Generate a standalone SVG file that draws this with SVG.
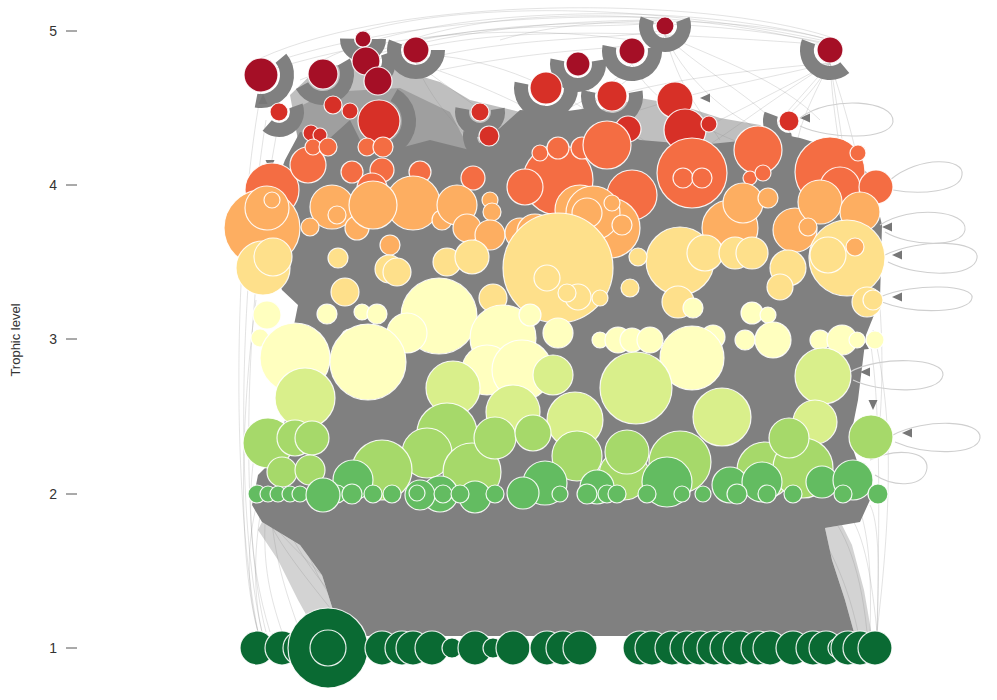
<svg xmlns="http://www.w3.org/2000/svg" xmlns:xlink="http://www.w3.org/1999/xlink" width="997" height="700" viewBox="0 0 997 700">
<defs>
<style>
text{font-family:"Liberation Sans",Arial,sans-serif;fill:#333}
.ax{font-size:14px}
.tk{stroke:#555;stroke-width:1}
.ln{fill:none;stroke:#8c8c8c;stroke-opacity:.35;stroke-width:.7}
.lp{fill:none;stroke:#cfcfcf;stroke-width:1.1}
.w{fill:none;stroke:#808080;stroke-width:14}
.ah{fill:#777}
circle.n{stroke:#fff;stroke-width:1.2;stroke-opacity:.9}
.dr{fill:#a50f26}.r{fill:#d73027}.or{fill:#f46d43}.o{fill:#fdae61}.yo{fill:#fee08b}.py{fill:#ffffbf}.lg{fill:#d9ef8b}.g{fill:#a6d96a}.mg{fill:#63bc61}.l1{fill:#0a6a33}
</style>
<path id="ah" d="M0,0 L10,-4.5 L10,4.5 Z"/>
</defs>
<rect width="997" height="700" fill="#fff"/>
<g id="axis">
<text class="ax" x="57" y="36" text-anchor="end">5</text>
<text class="ax" x="57" y="190" text-anchor="end">4</text>
<text class="ax" x="57" y="344" text-anchor="end">3</text>
<text class="ax" x="57" y="499" text-anchor="end">2</text>
<text class="ax" x="57" y="653" text-anchor="end">1</text>
<line class="tk" x1="66" y1="31" x2="77" y2="31"/>
<line class="tk" x1="66" y1="185" x2="77" y2="185"/>
<line class="tk" x1="66" y1="339" x2="77" y2="339"/>
<line class="tk" x1="66" y1="494" x2="77" y2="494"/>
<line class="tk" x1="66" y1="648" x2="77" y2="648"/>
<text x="20" y="340" font-size="13" text-anchor="middle" transform="rotate(-90 20 340)">Trophic level</text>
</g>
<g id="connectors">
<g id="light-lines">
<path class="ln" d="M261,58 C400,-5 700,-5 830,37"/>
<path class="ln" d="M323,60 C430,5 690,0 830,40"/>
<path class="ln" d="M363,31 C480,0 660,5 830,42"/>
<path class="ln" d="M416,38 C520,5 690,10 828,45"/>
<path class="ln" d="M280,60 C420,15 600,15 665,18"/>
<path class="ln" d="M300,80 C420,30 560,20 665,20"/>
<path class="ln" d="M340,75 C450,20 620,30 830,45"/>
<path class="ln" d="M270,70 C400,30 520,25 632,40"/>
<path class="ln" d="M416,40 C520,20 600,30 665,22"/>
<path class="ln" d="M500,40 C600,10 760,20 830,40"/>
<path class="ln" d="M380,50 C500,15 700,15 830,44"/>
<path class="ln" d="M420,60 C520,35 620,40 665,30"/>
<path class="ln" d="M440,70 C540,50 600,50 632,45"/>
<path class="ln" d="M416,63 C430,100 460,130 480,150"/>
<path class="ln" d="M416,63 C450,90 500,120 530,150"/>
<path class="ln" d="M416,63 C470,80 540,110 580,140"/>
<path class="ln" d="M430,55 C500,60 560,90 600,120"/>
<path class="ln" d="M546,104 C520,130 480,150 450,160"/>
<path class="ln" d="M578,76 C600,110 640,140 660,150"/>
<path class="ln" d="M665,35 C640,80 600,100 560,120"/>
<path class="ln" d="M665,35 C700,70 760,100 780,130"/>
<path class="ln" d="M665,35 C720,60 780,80 820,120"/>
<path class="ln" d="M632,64 C600,100 540,120 500,140"/>
<path class="ln" d="M258,632 C232,500 232,250 261,92"/>
<path class="ln" d="M262,632 C236,520 238,300 266,120"/>
<path class="ln" d="M266,632 C242,540 240,320 279,121"/>
<path class="ln" d="M258,632 C238,560 240,420 256,300"/>
<path class="ln" d="M270,632 C248,560 244,480 262,420"/>
<path class="ln" d="M258,632 C245,580 248,540 257,503"/>
<path class="ln" d="M262,632 C252,590 255,540 262,505"/>
<path class="ln" d="M380,632 C330,580 280,540 257,503"/>
<path class="ln" d="M400,632 C340,570 290,530 268,503"/>
<path class="ln" d="M440,632 C370,570 300,530 280,503"/>
<path class="ln" d="M470,632 C400,580 320,530 290,505"/>
<path class="ln" d="M330,608 C300,570 275,540 262,505"/>
<path class="ln" d="M345,610 C310,570 290,540 278,505"/>
<path class="ln" d="M300,632 C285,590 275,560 270,505"/>
<path class="ln" d="M282,632 C268,590 262,560 266,505"/>
<path class="ln" d="M360,632 C320,590 300,550 300,505"/>
<path class="ln" d="M877,632 C870,560 860,520 840,505"/>
<path class="ln" d="M867,632 C860,560 840,520 820,505"/>
<path class="ln" d="M858,632 C845,570 820,530 800,505"/>
<path class="ln" d="M848,632 C835,570 800,530 780,505"/>
<path class="ln" d="M877,632 C880,560 878,520 870,505"/>
<path class="ln" d="M870,632 C872,570 868,530 858,505"/>
<path class="ln" d="M840,632 C820,570 790,540 760,505"/>
<path class="ln" d="M830,632 C810,580 770,545 740,505"/>
<path class="ln" d="M877,632 C880,500 880,400 870,340"/>
<path class="ln" d="M877,632 C895,480 890,400 873,330"/>
<path class="ln" d="M830,63 C840,120 850,200 858,240"/>
<path class="ln" d="M830,63 C835,150 860,250 872,320"/>
<path class="ln" d="M830,63 C860,150 890,280 880,420"/>
<path class="ln" d="M830,63 C790,110 760,140 740,170"/>
<path class="ln" d="M830,63 C780,90 740,110 700,130"/>
<path class="ln" d="M830,63 C760,80 700,90 640,110"/>
<path class="ln" d="M830,63 C750,70 660,80 600,100"/>
<path class="ln" d="M830,63 C800,120 790,150 800,170"/>
<path class="ln" d="M830,63 C770,100 720,140 700,150"/>
<path class="ln" d="M830,63 C810,100 780,120 770,135"/>
<path class="ln" d="M665,35 C680,90 700,110 720,140"/>
<path class="ln" d="M665,35 C690,90 740,120 760,130"/>
<path class="ln" d="M632,64 C650,100 700,130 760,150"/>
<path class="ln" d="M789,131 C800,200 830,300 850,330"/>
<path class="ln" d="M789,131 C820,180 850,260 860,290"/>
</g>
<path id="mid-mass" fill="#8a8a8a" fill-opacity=".55" d="M290,95 L318,68 L360,62 L400,70 L440,82 L470,100 L520,112 L560,112 L600,110 L640,98 L680,105 L720,118 L760,125 L790,150 L300,150 Z"/>
<path id="mid-mass-left" fill="#808080" fill-opacity=".5" d="M292,110 L330,92 L400,88 L450,112 L470,150 L300,150 Z"/>
<path id="fringe" fill="#808080" fill-opacity=".35" d="M262,522 L300,545 L322,575 L333,610 L345,636 L318,636 L298,600 L278,560 L258,530 Z M825,528 L832,560 L845,600 L855,636 L872,636 L864,590 L852,545 L842,525 Z"/>
<path id="dense-mass" fill="#808080" d="M285,160 L300,132 L330,138 L350,120 L360,140 L400,148 L430,140 L470,150 L500,128 L520,110 L560,112 L590,108 L600,122 L640,140 L700,145 L750,140 L770,132 L800,138 L840,150 L870,175 L882,225 L880,300 L866,335 L858,400 L850,440 L860,470 L870,500 L860,522 L825,528 L832,560 L845,600 L855,636 L345,636 L333,610 L322,575 L300,545 L262,522 L252,505 L258,475 L278,455 L285,420 L282,380 L290,345 L298,305 L282,290 L268,250 L270,200 Z"/>
<g id="wedges">
<circle class="w" cx="261" cy="75" r="26" stroke-dasharray="63.5 999" transform="rotate(-40 261 75)"/>
<circle class="w" cx="323" cy="74" r="24" stroke-dasharray="75.4 999" transform="rotate(-30 323 74)"/>
<circle class="w" cx="416" cy="50" r="22" stroke-dasharray="76.8 999" transform="rotate(0 416 50)"/>
<circle class="w" cx="546" cy="88" r="25" stroke-dasharray="87.3 999" transform="rotate(-10 546 88)"/>
<circle class="w" cx="480" cy="112" r="18" stroke-dasharray="62.8 999" transform="rotate(-10 480 112)"/>
<circle class="w" cx="489" cy="136" r="19" stroke-dasharray="66.3 999" transform="rotate(-10 489 136)"/>
<circle class="w" cx="578" cy="64" r="21" stroke-dasharray="73.3 999" transform="rotate(-10 578 64)"/>
<circle class="w" cx="632" cy="51" r="23" stroke-dasharray="80.3 999" transform="rotate(-10 632 51)"/>
<circle class="w" cx="665" cy="26" r="19" stroke-dasharray="73 999" transform="rotate(-20 665 26)"/>
<circle class="w" cx="830" cy="50" r="23" stroke-dasharray="60.2 999" transform="rotate(50 830 50)"/>
<circle class="w" cx="379" cy="121" r="30" stroke-dasharray="62.8 999" transform="rotate(-60 379 121)"/>
<circle class="w" cx="279" cy="112" r="18" stroke-dasharray="47.1 999" transform="rotate(-20 279 112)"/>
<circle class="w" cx="366" cy="61" r="23" stroke-dasharray="42 999" transform="rotate(-20 366 61)"/>
<circle class="w" cx="363" cy="39" r="16" stroke-dasharray="50.3 999" transform="rotate(0 363 39)"/>
<circle class="w" cx="789" cy="121" r="19" stroke-dasharray="39.8 999" transform="rotate(80 789 121)"/>
<circle class="w" cx="612" cy="96" r="24" stroke-dasharray="83.8 999" transform="rotate(-10 612 96)"/>
</g>
<g id="arrowheads">
<use href="#ah" class="ah" transform="translate(270,170) rotate(-90)"/>
<use href="#ah" class="ah" transform="translate(263,94) rotate(90)"/>
<use href="#ah" class="ah" transform="translate(882,227)"/>
<use href="#ah" class="ah" transform="translate(892,255)"/>
<use href="#ah" class="ah" transform="translate(892,297)"/>
<use href="#ah" class="ah" transform="translate(860,372)"/>
<use href="#ah" class="ah" transform="translate(873,410) rotate(-90)"/>
<use href="#ah" class="ah" transform="translate(902,433)"/>
<use href="#ah" class="ah" transform="translate(700,98)"/>
<use href="#ah" class="ah" transform="translate(800,118)"/>
<use href="#ah" class="ah" transform="translate(858,350) rotate(-30)"/>
</g>
<g id="loops">
<path class="lp" d="M800,118 C830,95 895,100 893,122 C890,140 830,140 800,126"/>
<path class="lp" d="M890,180 C920,155 965,158 962,175 C960,192 920,195 893,190"/>
<path class="lp" d="M880,225 C910,205 968,210 965,230 C962,248 910,247 885,232"/>
<path class="lp" d="M885,255 C920,238 980,240 977,258 C975,277 920,278 888,262"/>
<path class="lp" d="M880,297 C915,282 975,285 972,298 C970,313 915,315 882,302"/>
<path class="lp" d="M850,372 C880,355 945,358 943,375 C940,395 880,393 853,380"/>
<path class="lp" d="M893,435 C925,418 982,420 980,438 C978,456 925,455 895,442"/>
<path class="lp" d="M870,460 C895,448 928,450 927,468 C925,487 895,488 875,475"/>
</g>
</g>
<g id="nodes">
<g id="tl5">
<circle id="a1" class="n dr" cx="261" cy="75" r="17"/>
<circle id="a2" class="n dr" cx="323" cy="74" r="15"/>
<circle id="a3" class="n dr" cx="363" cy="39" r="8"/>
<circle id="a4" class="n dr" cx="366" cy="61" r="14"/>
<circle id="a5" class="n dr" cx="378" cy="81" r="14"/>
<circle id="a6" class="n dr" cx="416" cy="50" r="13"/>
<circle id="a7" class="n dr" cx="578" cy="64" r="12"/>
<circle id="a8" class="n dr" cx="632" cy="51" r="13"/>
<circle id="a9" class="n dr" cx="665" cy="26" r="9"/>
<circle id="a10" class="n dr" cx="830" cy="50" r="13"/>
</g>
<g id="tl45">
<circle id="b1" class="n r" cx="279" cy="112" r="9"/>
<circle id="b2" class="n r" cx="333" cy="105" r="9"/>
<circle id="b3" class="n r" cx="350" cy="111" r="8"/>
<circle id="b4" class="n r" cx="379" cy="121" r="21"/>
<circle id="b5" class="n r" cx="311" cy="133" r="8"/>
<circle id="b6" class="n r" cx="320" cy="135" r="7"/>
<circle id="b7" class="n r" cx="480" cy="112" r="9"/>
<circle id="b8" class="n r" cx="489" cy="136" r="10"/>
<circle id="b9" class="n r" cx="546" cy="88" r="16"/>
<circle id="b10" class="n r" cx="612" cy="96" r="15"/>
<circle id="b11" class="n r" cx="628" cy="129" r="13"/>
<circle id="b12" class="n r" cx="675" cy="100" r="18"/>
<circle id="b13" class="n r" cx="685" cy="130" r="21"/>
<circle id="b14" class="n r" cx="709" cy="124" r="8"/>
<circle id="b15" class="n r" cx="789" cy="121" r="10"/>
</g>
<g id="tl4">
<circle id="c1" class="n or" cx="558" cy="180" r="35"/>
<circle id="c2" class="n or" cx="272" cy="190" r="27"/>
<circle id="c3" class="n or" cx="308" cy="165" r="18"/>
<circle id="c4" class="n or" cx="313" cy="147" r="8"/>
<circle id="c5" class="n or" cx="328" cy="147" r="9"/>
<circle id="c6" class="n or" cx="367" cy="147" r="9"/>
<circle id="c7" class="n or" cx="383" cy="147" r="10"/>
<circle id="c8" class="n or" cx="352" cy="172" r="11"/>
<circle id="c9" class="n or" cx="382" cy="170" r="12"/>
<circle id="c10" class="n or" cx="372" cy="188" r="15"/>
<circle id="c11" class="n or" cx="420" cy="172" r="11"/>
<circle id="c12" class="n or" cx="473" cy="178" r="12"/>
<circle id="c13" class="n or" cx="540" cy="153" r="8"/>
<circle id="c14" class="n or" cx="558" cy="148" r="11"/>
<circle id="c15" class="n or" cx="582" cy="148" r="11"/>
<circle id="c16" class="n or" cx="525" cy="187" r="18"/>
<circle id="c17" class="n or" cx="607" cy="145" r="24"/>
<circle id="c18" class="n or" cx="632" cy="195" r="25"/>
<circle id="c19" class="n or" cx="692" cy="173" r="35"/>
<circle id="c20" class="n or" cx="683" cy="178" r="10"/>
<circle id="c21" class="n or" cx="702" cy="178" r="10"/>
<circle id="c22" class="n or" cx="758" cy="150" r="24"/>
<circle id="c23" class="n or" cx="750" cy="178" r="7"/>
<circle id="c24" class="n or" cx="763" cy="173" r="8"/>
<circle id="c25" class="n or" cx="830" cy="172" r="35"/>
<circle id="c26" class="n or" cx="858" cy="153" r="8"/>
<circle id="c27" class="n or" cx="840" cy="187" r="20"/>
<circle id="c28" class="n or" cx="876" cy="187" r="17"/>
</g>
<g id="tl38">
<circle id="d1" class="n o" cx="262" cy="228" r="38"/>
<circle id="d2" class="n o" cx="267" cy="208" r="22"/>
<circle id="d3" class="n o" cx="272" cy="200" r="8"/>
<circle id="d4" class="n o" cx="332" cy="207" r="22"/>
<circle id="d5" class="n o" cx="337" cy="215" r="9"/>
<circle id="d6" class="n o" cx="310" cy="227" r="9"/>
<circle id="d7" class="n o" cx="357" cy="228" r="12"/>
<circle id="d8" class="n o" cx="413" cy="203" r="27"/>
<circle id="d9" class="n o" cx="373" cy="205" r="24"/>
<circle id="d10" class="n o" cx="442" cy="220" r="10"/>
<circle id="d11" class="n o" cx="457" cy="205" r="20"/>
<circle id="d12" class="n o" cx="490" cy="200" r="8"/>
<circle id="d13" class="n o" cx="492" cy="212" r="9"/>
<circle id="d14" class="n o" cx="467" cy="228" r="14"/>
<circle id="d15" class="n o" cx="490" cy="235" r="15"/>
<circle id="d16" class="n o" cx="390" cy="245" r="10"/>
<circle id="d17" class="n o" cx="520" cy="233" r="15"/>
<circle id="d18" class="n o" cx="535" cy="232" r="18"/>
<circle id="d19" class="n o" cx="610" cy="228" r="30"/>
<circle id="d20" class="n o" cx="580" cy="210" r="25"/>
<circle id="d21" class="n o" cx="593" cy="213" r="27"/>
<circle id="d22" class="n o" cx="587" cy="213" r="15"/>
<circle id="d23" class="n o" cx="612" cy="203" r="8"/>
<circle id="d24" class="n o" cx="622" cy="225" r="10"/>
<circle id="d25" class="n o" cx="730" cy="228" r="28"/>
<circle id="d26" class="n o" cx="743" cy="203" r="20"/>
<circle id="d27" class="n o" cx="768" cy="198" r="10"/>
<circle id="d28" class="n o" cx="795" cy="230" r="22"/>
<circle id="d29" class="n o" cx="820" cy="202" r="22"/>
<circle id="d30" class="n o" cx="860" cy="212" r="20"/>
<circle id="d31" class="n o" cx="808" cy="227" r="9"/>
</g>
<g id="tl35">
<circle id="e1" class="n yo" cx="263" cy="268" r="27"/>
<circle id="e2" class="n yo" cx="273" cy="257" r="19"/>
<circle id="e3" class="n yo" cx="338" cy="258" r="10"/>
<circle id="e4" class="n yo" cx="345" cy="292" r="14"/>
<circle id="e5" class="n yo" cx="389" cy="269" r="14"/>
<circle id="e6" class="n yo" cx="397" cy="272" r="14"/>
<circle id="e7" class="n yo" cx="447" cy="262" r="14"/>
<circle id="e8" class="n yo" cx="472" cy="257" r="17"/>
<circle id="e9" class="n yo" cx="493" cy="298" r="14"/>
<circle id="e10" class="n yo" cx="558" cy="268" r="55"/>
<circle id="e11" class="n yo" cx="547" cy="278" r="13"/>
<circle id="e12" class="n yo" cx="578" cy="297" r="13"/>
<circle id="e13" class="n yo" cx="567" cy="293" r="9"/>
<circle id="e14" class="n yo" cx="680" cy="261" r="34"/>
<circle id="e15" class="n yo" cx="705" cy="253" r="18"/>
<circle id="e16" class="n yo" cx="735" cy="253" r="16"/>
<circle id="e17" class="n yo" cx="752" cy="253" r="16"/>
<circle id="e18" class="n yo" cx="788" cy="268" r="18"/>
<circle id="e19" class="n yo" cx="780" cy="287" r="13"/>
<circle id="e20" class="n yo" cx="678" cy="302" r="16"/>
<circle id="e21" class="n yo" cx="630" cy="288" r="9"/>
<circle id="e22" class="n yo" cx="638" cy="257" r="9"/>
<circle id="e28" class="n yo" cx="600" cy="298" r="8"/>
<circle id="e23" class="n yo" cx="847" cy="258" r="38"/>
<circle id="e24" class="n yo" cx="828" cy="255" r="18"/>
<circle id="e25" class="n o" cx="855" cy="247" r="9"/>
<circle id="e26" class="n yo" cx="867" cy="302" r="15"/>
<circle id="e27" class="n yo" cx="873" cy="300" r="10"/>
</g>
<g id="tl3">
<circle id="f1" class="n py" cx="267" cy="315" r="14"/>
<circle id="f2" class="n py" cx="260" cy="338" r="9"/>
<circle id="f3" class="n py" cx="327" cy="314" r="10"/>
<circle id="f4" class="n py" cx="362" cy="312" r="8"/>
<circle id="f5" class="n py" cx="377" cy="314" r="10"/>
<circle id="f6" class="n py" cx="439" cy="316" r="38"/>
<circle id="f7" class="n py" cx="407" cy="333" r="20"/>
<circle id="f8" class="n py" cx="350" cy="338" r="9"/>
<circle id="f9" class="n py" cx="363" cy="338" r="13"/>
<circle id="f10" class="n py" cx="503" cy="338" r="33"/>
<circle id="f11" class="n py" cx="487" cy="370" r="25"/>
<circle id="f12" class="n py" cx="522" cy="370" r="30"/>
<circle id="f13" class="n py" cx="530" cy="315" r="11"/>
<circle id="f14" class="n py" cx="558" cy="333" r="15"/>
<circle id="f15" class="n py" cx="295" cy="358" r="35"/>
<circle id="f16" class="n py" cx="368" cy="362" r="38"/>
<circle id="f17" class="n py" cx="600" cy="340" r="8"/>
<circle id="f18" class="n py" cx="618" cy="340" r="13"/>
<circle id="f19" class="n py" cx="632" cy="340" r="12"/>
<circle id="f20" class="n py" cx="650" cy="340" r="13"/>
<circle id="f31" class="n py" cx="693" cy="308" r="10"/>
<circle id="f21" class="n py" cx="713" cy="337" r="12"/>
<circle id="f22" class="n py" cx="692" cy="358" r="32"/>
<circle id="f23" class="n py" cx="745" cy="340" r="10"/>
<circle id="f24" class="n py" cx="752" cy="313" r="11"/>
<circle id="f25" class="n py" cx="768" cy="315" r="8"/>
<circle id="f26" class="n py" cx="773" cy="340" r="18"/>
<circle id="f27" class="n py" cx="820" cy="340" r="10"/>
<circle id="f28" class="n py" cx="842" cy="340" r="15"/>
<circle id="f29" class="n py" cx="857" cy="340" r="8"/>
<circle id="f30" class="n py" cx="875" cy="340" r="9"/>
</g>
<g id="tl25">
<circle id="h1" class="n lg" cx="305" cy="398" r="30"/>
<circle id="h2" class="n lg" cx="453" cy="388" r="27"/>
<circle id="h3" class="n lg" cx="553" cy="375" r="20"/>
<circle id="h4" class="n lg" cx="513" cy="412" r="27"/>
<circle id="h5" class="n lg" cx="575" cy="420" r="28"/>
<circle id="h6" class="n lg" cx="636" cy="388" r="36"/>
<circle id="h7" class="n lg" cx="722" cy="417" r="29"/>
<circle id="h8" class="n lg" cx="823" cy="376" r="28"/>
<circle id="h9" class="n lg" cx="815" cy="422" r="22"/>
</g>
<g id="tl23">
<circle id="i1" class="n g" cx="268" cy="443" r="25"/>
<circle id="i2" class="n g" cx="295" cy="438" r="18"/>
<circle id="i3" class="n g" cx="312" cy="438" r="17"/>
<circle id="i4" class="n g" cx="282" cy="472" r="15"/>
<circle id="i5" class="n g" cx="310" cy="470" r="15"/>
<circle id="i6" class="n g" cx="447" cy="433" r="30"/>
<circle id="i7" class="n g" cx="427" cy="453" r="25"/>
<circle id="i8" class="n g" cx="382" cy="470" r="30"/>
<circle id="i9" class="n g" cx="472" cy="472" r="29"/>
<circle id="i10" class="n g" cx="495" cy="438" r="21"/>
<circle id="i11" class="n g" cx="533" cy="433" r="18"/>
<circle id="i12" class="n g" cx="577" cy="456" r="25"/>
<circle id="i13" class="n g" cx="624" cy="475" r="25"/>
<circle id="i14" class="n g" cx="627" cy="452" r="22"/>
<circle id="i15" class="n g" cx="680" cy="462" r="31"/>
<circle id="i16" class="n g" cx="765" cy="470" r="28"/>
<circle id="i17" class="n g" cx="803" cy="468" r="30"/>
<circle id="i18" class="n g" cx="789" cy="438" r="20"/>
<circle id="i19" class="n g" cx="871" cy="437" r="22"/>
</g>
<g id="tl2">
<circle id="j1" class="n mg" cx="353" cy="480" r="20"/>
<circle id="j2" class="n mg" cx="545" cy="483" r="22"/>
<circle id="j3" class="n mg" cx="667" cy="482" r="25"/>
<circle id="j4" class="n mg" cx="730" cy="485" r="18"/>
<circle id="j5" class="n mg" cx="762" cy="482" r="20"/>
<circle id="j6" class="n mg" cx="822" cy="482" r="16"/>
<circle id="j7" class="n mg" cx="853" cy="480" r="20"/>
<circle id="j8" class="n mg" cx="597" cy="487" r="17"/>
<circle id="j9" class="n mg" cx="440" cy="494" r="18"/>
<circle id="j10" class="n mg" cx="475" cy="497" r="16"/>
<circle id="j11" class="n mg" cx="420" cy="495" r="15"/>
<circle id="j12" class="n mg" cx="523" cy="493" r="16"/>
<circle id="j13" class="n mg" cx="257" cy="494" r="9"/>
<circle id="j14" class="n mg" cx="268" cy="494" r="8"/>
<circle id="j15" class="n mg" cx="278" cy="494" r="8"/>
<circle id="j16" class="n mg" cx="290" cy="494" r="8"/>
<circle id="j17" class="n mg" cx="300" cy="494" r="8"/>
<circle id="j18" class="n mg" cx="337" cy="494" r="9"/>
<circle id="j19" class="n mg" cx="352" cy="494" r="10"/>
<circle id="j20" class="n mg" cx="373" cy="494" r="9"/>
<circle id="j21" class="n mg" cx="392" cy="494" r="9"/>
<circle id="j22" class="n mg" cx="417" cy="493" r="8"/>
<circle id="j23" class="n mg" cx="443" cy="494" r="9"/>
<circle id="j24" class="n mg" cx="460" cy="494" r="9"/>
<circle id="j25" class="n mg" cx="495" cy="494" r="9"/>
<circle id="j26" class="n mg" cx="560" cy="494" r="8"/>
<circle id="j27" class="n mg" cx="587" cy="494" r="10"/>
<circle id="j28" class="n mg" cx="607" cy="494" r="9"/>
<circle id="j29" class="n mg" cx="617" cy="494" r="9"/>
<circle id="j30" class="n mg" cx="647" cy="494" r="9"/>
<circle id="j31" class="n mg" cx="682" cy="494" r="8"/>
<circle id="j32" class="n mg" cx="703" cy="494" r="8"/>
<circle id="j33" class="n mg" cx="737" cy="494" r="10"/>
<circle id="j34" class="n mg" cx="767" cy="494" r="9"/>
<circle id="j35" class="n mg" cx="793" cy="494" r="9"/>
<circle id="j36" class="n mg" cx="843" cy="494" r="9"/>
<circle id="j37" class="n mg" cx="323" cy="495" r="17"/>
<circle id="j38" class="n mg" cx="878" cy="494" r="10"/>
</g>
<g id="tl1">
<circle id="k1" class="n l1" cx="257" cy="648" r="17"/>
<circle id="k2" class="n l1" cx="282" cy="648" r="17"/>
<circle id="k3" class="n l1" cx="300" cy="648" r="17"/>
<circle id="k4" class="n l1" cx="328" cy="648" r="40"/>
<circle id="k5" class="n l1" cx="328" cy="648" r="18"/>
<circle id="k6" class="n l1" cx="382" cy="648" r="17"/>
<circle id="k7" class="n l1" cx="402" cy="648" r="17"/>
<circle id="k8" class="n l1" cx="413" cy="648" r="17"/>
<circle id="k9" class="n l1" cx="432" cy="648" r="17"/>
<circle id="k10" class="n l1" cx="452" cy="648" r="10"/>
<circle id="k11" class="n l1" cx="475" cy="648" r="17"/>
<circle id="k12" class="n l1" cx="493" cy="648" r="10"/>
<circle id="k13" class="n l1" cx="513" cy="648" r="17"/>
<circle id="k14" class="n l1" cx="547" cy="648" r="17"/>
<circle id="k15" class="n l1" cx="563" cy="648" r="17"/>
<circle id="k16" class="n l1" cx="580" cy="648" r="17"/>
<circle id="k17" class="n l1" cx="640" cy="648" r="17"/>
<circle id="k18" class="n l1" cx="652" cy="648" r="17"/>
<circle id="k19" class="n l1" cx="672" cy="648" r="17"/>
<circle id="k20" class="n l1" cx="687" cy="648" r="17"/>
<circle id="k21" class="n l1" cx="700" cy="648" r="17"/>
<circle id="k22" class="n l1" cx="714" cy="648" r="17"/>
<circle id="k23" class="n l1" cx="727" cy="648" r="17"/>
<circle id="k24" class="n l1" cx="740" cy="648" r="17"/>
<circle id="k25" class="n l1" cx="758" cy="648" r="17"/>
<circle id="k26" class="n l1" cx="770" cy="648" r="17"/>
<circle id="k27" class="n l1" cx="793" cy="648" r="17"/>
<circle id="k28" class="n l1" cx="813" cy="648" r="17"/>
<circle id="k29" class="n l1" cx="826" cy="648" r="17"/>
<circle id="k30" class="n l1" cx="838" cy="648" r="10"/>
<circle id="k31" class="n l1" cx="848" cy="648" r="17"/>
<circle id="k32" class="n l1" cx="860" cy="648" r="17"/>
<circle id="k33" class="n l1" cx="875" cy="648" r="17"/>
</g>
</g>
</svg>
